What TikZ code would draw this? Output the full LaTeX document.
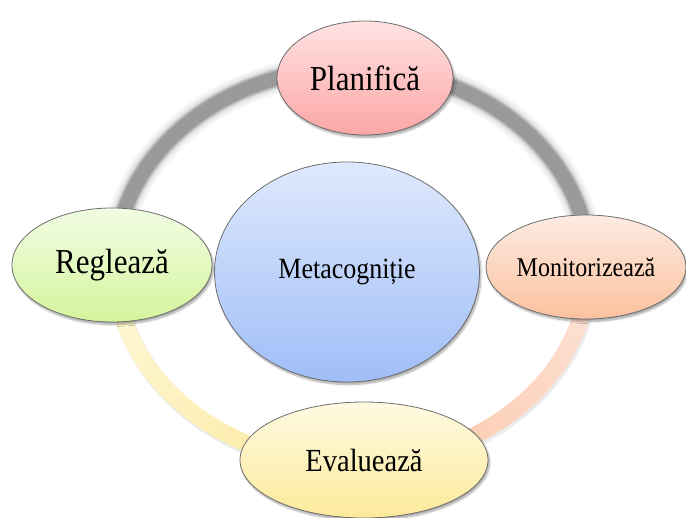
\documentclass[tikz,border=0pt]{standalone}
\usepackage{graphicx}
\usepackage{fontspec}
\setmainfont{Liberation Serif}
\usetikzlibrary{shapes.geometric,shadows.blur}

\definecolor{ringgray}{HTML}{9A9A9A}
\definecolor{yelA}{HTML}{FDF8DC}
\definecolor{yelB}{HTML}{FDEA9C}
\definecolor{salA}{HTML}{FDE6DC}
\definecolor{salB}{HTML}{FCC4A4}
\definecolor{planTop}{HTML}{FFE2E2}
\definecolor{planBot}{HTML}{FBA6A6}
\definecolor{monTop}{HTML}{FDEBE2}
\definecolor{monBot}{HTML}{FBC19E}
\definecolor{regTop}{HTML}{F2FCE4}
\definecolor{regBot}{HTML}{D4F59C}
\definecolor{evTop}{HTML}{FEFAE2}
\definecolor{evBot}{HTML}{FCEA9A}
\definecolor{metaTop}{HTML}{DFE9FD}
\definecolor{metaBot}{HTML}{9FBEF7}
\definecolor{rim}{HTML}{6E6E6E}

% slightly tall lettering
\newcommand{\talltext}[2]{\fontsize{#1}{#1}\selectfont\scalebox{1}[1.13]{#2}}

\begin{document}
\begin{tikzpicture}[x=1pt,y=-1pt,
  bubble/.style={ellipse, draw=rim, line width=0.8pt, inner sep=0pt,
    blur shadow={shadow xshift=1.5pt, shadow yshift=-2.5pt, shadow blur steps=8, shadow opacity=35}},
  planstyle/.style={bubble, top color=planTop, bottom color=planBot, minimum width=176pt, minimum height=114pt},
  monstyle/.style={bubble, top color=monTop, bottom color=monBot, minimum width=200pt, minimum height=104pt},
  regstyle/.style={bubble, top color=regTop, bottom color=regBot, minimum width=200pt, minimum height=114pt},
  evstyle/.style={bubble, top color=evTop, bottom color=evBot, minimum width=248pt, minimum height=116pt},
  metastyle/.style={bubble, top color=metaTop, bottom color=metaBot, minimum width=265pt, minimum height=220pt},
  ringarc/.style={line width=17pt, line cap=butt}
]
\useasboundingbox (0,0) rectangle (686,518);

% upper part of the cycle: soft grey band
\foreach \w/\o in {32/0.05, 28/0.08, 24/0.12, 20/0.25, 17/0.55, 14/1} {
  \draw[line width=\w pt, draw=ringgray, opacity=\o]
    plot[smooth, domain=0:180, samples=90, variable=\q] ({352+237*cos(\q)},{266-198*sin(\q)});
}

% faint shadows under the lower bands
\draw[line width=18pt, draw=black, opacity=0.08]
  plot[smooth, domain=182:358, samples=90, variable=\q] ({353.5+237*cos(\q)},{268.5-198*sin(\q)});

% lower left band: pale to deeper yellow
\foreach \a in {180,182,...,268} {
  \pgfmathtruncatemacro\f{100*(\a-180)/90}
  \pgfmathsetmacro\e{\a+2.8}
  \draw[ringarc, draw=yelB!\f!yelA]
    plot[domain=\a:\e, samples=4, variable=\q] ({352+237*cos(\q)},{266-198*sin(\q)});
}

% lower right band: deeper to pale salmon
\foreach \a in {270,272,...,358} {
  \pgfmathtruncatemacro\f{100*(\a-270)/90}
  \pgfmathsetmacro\e{\a+2.8}
  \draw[ringarc, draw=salA!\f!salB]
    plot[domain=\a:\e, samples=4, variable=\q] ({352+237*cos(\q)},{266-198*sin(\q)});
}

% nodes of the cycle
\node[planstyle] (plan) at (365,78) {\talltext{31}{Planifică}};
\node[monstyle] (mon) at (586,267) {\talltext{24}{Monitorizează}};
\node[regstyle] (regl) at (112,265) {\talltext{31}{Reglează}};
\node[evstyle] (eval) at (364,460) {\talltext{28.5}{Evaluează}};
\node[metastyle] (meta) at (347,272) {\talltext{26}{Metacogniție}};
\end{tikzpicture}
\end{document}
